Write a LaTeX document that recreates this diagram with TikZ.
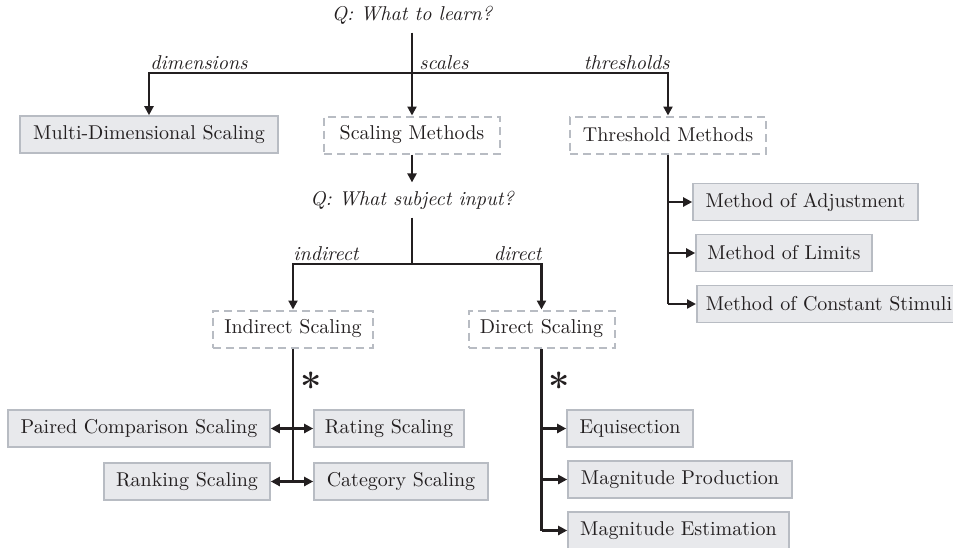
\documentclass[tikz,border=0pt]{standalone}
\usetikzlibrary{arrows.meta}
\definecolor{boxfill}{RGB}{232,233,236}
\definecolor{boxline}{RGB}{184,188,195}
\definecolor{ink}{RGB}{35,31,32}
\begin{document}
\begin{tikzpicture}[x=0.5pt,y=-0.5pt,
 solidbox/.style={draw=boxline,fill=boxfill,line width=0.8pt,minimum height=18.5pt,inner sep=0pt,text=ink},
 dashbox/.style={draw=boxline,line width=1pt,dash pattern=on 4pt off 2.5pt,minimum height=18.5pt,inner sep=0pt,text=ink},
 qtext/.style={font=\itshape,inner xsep=0pt,inner ysep=4pt,text=ink},
 lbl/.style={font=\itshape,inner xsep=0pt,inner ysep=1.5pt,text=ink},
 conn/.style={draw=ink,line width=1.1pt,-{Triangle[length=4.5pt,width=4.5pt]}},
 plainline/.style={draw=ink,line width=1.1pt},
 star/.style={font=\fontsize{19}{19}\selectfont\bfseries,inner sep=0pt,text=ink}
]
\useasboundingbox (0,0) rectangle (953,547);
\clip (0,0) rectangle (953,547);

% questions
\node[qtext] (q1) at (412,15) {Q: What to learn?};
\node[qtext] (q2) at (412,200) {Q: What subject input?};

% level 1
\node[solidbox,minimum width=129pt] (md) at (149,134.5) {Multi-Dimensional Scaling};
\node[dashbox,minimum width=88pt] (sm) at (412,135) {Scaling Methods};
\node[dashbox,minimum width=98pt] (tm) at (668,135) {Threshold Methods};

% threshold children
\node[solidbox,minimum width=112.5pt] (ma) at (805.5,202) {Method of Adjustment};
\node[solidbox,minimum width=88pt] (ml) at (784,253) {Method of Limits};
\node[solidbox,inner xsep=4.5pt,anchor=west] (mc) at (696,304) {Method of Constant Stimuli};

% level 2
\node[dashbox,minimum width=80pt] (is) at (293,329) {Indirect Scaling};
\node[dashbox,minimum width=73pt] (ds) at (541.5,329) {Direct Scaling};

% indirect children
\node[solidbox,minimum width=131pt] (pc) at (139,428.5) {Paired Comparison Scaling};
\node[solidbox,minimum width=75pt] (rs) at (389,428.5) {Rating Scaling};
\node[solidbox,minimum width=83pt] (rk) at (187,481.5) {Ranking Scaling};
\node[solidbox,minimum width=87pt] (cs) at (401,481.5) {Category Scaling};

% direct children
\node[solidbox,minimum width=63pt] (eq) at (630,428.5) {Equisection};
\node[solidbox,minimum width=112pt] (mp) at (680,479.5) {Magnitude Production};
\node[solidbox,minimum width=110.5pt] (me) at (678.5,530.5) {Magnitude Estimation};

% stars
\node[star] (s1) at (311,386) {*};
\node[star] (s2) at (559,386) {*};

% top split
\coordinate (j1) at (412,73);
\draw[conn] (q1.south) -- (sm.north);
\draw[conn] (j1) -| (md.north);
\draw[conn] (j1) -| (tm.north);
\node[lbl,anchor=south west] (ldim) at (150,73) {dimensions};
\node[lbl,anchor=south west] (lsca) at (419,73) {scales};
\node[lbl,anchor=south east] (lthr) at (670,73) {thresholds};

% scaling to question 2
\draw[conn] (sm.south) -- (q2.north);
\coordinate (j2) at (412,264);
\draw[plainline] (q2.south) -- (j2);
\draw[conn] (j2) -| (is.north);
\draw[conn] (j2) -| (ds.north);
\node[lbl,anchor=south west] (lind) at (293,264) {indirect};
\node[lbl,anchor=south east] (ldir) at (542,264) {direct};

% threshold trunk
\coordinate (t1) at (668,202);
\coordinate (t2) at (668,253);
\coordinate (t3) at (668,304);
\draw[plainline] (tm.south) -- (t3);
\draw[conn] (t1) -- (ma.west);
\draw[conn] (t2) -- (ml.west);
\draw[conn] (t3) -- (mc.west);

% indirect trunk
\coordinate (i1) at (293,428.5);
\coordinate (i2) at (293,481.5);
\draw[plainline] (is.south) -- (i2);
\draw[conn] (i1) -- (pc.east);
\draw[conn] (i1) -- (rs.west);
\draw[conn] (i2) -- (rk.east);
\draw[conn] (i2) -- (cs.west);

% direct trunk
\coordinate (d1) at (541.5,428.5);
\coordinate (d2) at (541.5,479.5);
\coordinate (d3) at (541.5,530.5);
\draw[plainline] (ds.south) -- (d3);
\draw[conn] (d1) -- (eq.west);
\draw[conn] (d2) -- (mp.west);
\draw[conn] (d3) -- (me.west);
\end{tikzpicture}
\end{document}
